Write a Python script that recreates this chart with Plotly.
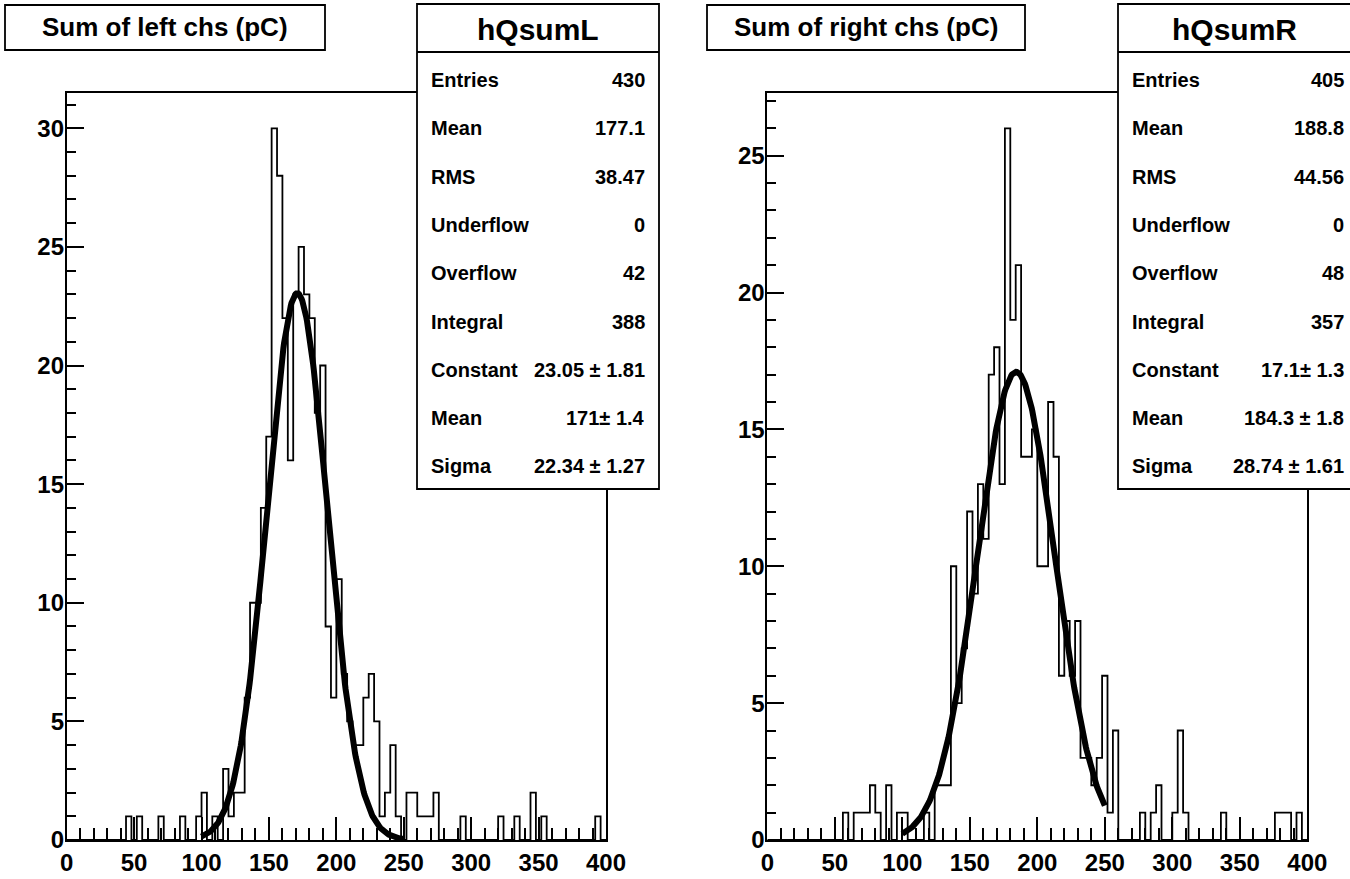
import numpy as np
import plotly.graph_objects as go

# ---------------- data ----------------
X_MIN, X_MAX, BIN_WIDTH = 0, 400, 4
N_BINS = 100

# left histogram: non-zero bins {bin index: count}, bin index = lower edge / 4
left_bins = {11: 1, 13: 1, 17: 1, 21: 1, 24: 1, 25: 2, 27: 1, 29: 3, 30: 1, 31: 2, 32: 2,
             33: 6, 34: 10, 35: 10, 36: 14, 37: 17, 38: 30, 39: 28, 40: 22, 41: 16, 42: 23,
             43: 25, 44: 23, 45: 22, 46: 18, 47: 20, 48: 9, 49: 6, 50: 11, 51: 7, 52: 5,
             53: 4, 54: 4, 55: 6, 56: 7, 57: 5, 58: 1, 59: 2, 60: 4, 61: 1, 63: 2, 64: 2,
             65: 1, 66: 1, 67: 1, 68: 2, 73: 1, 80: 1, 83: 1, 86: 2, 88: 1, 98: 1}
right_bins = {14: 1, 16: 1, 17: 1, 18: 1, 19: 2, 20: 1, 22: 2, 24: 1, 25: 1, 29: 1, 31: 2,
              32: 2, 33: 2, 34: 10, 35: 5, 36: 7, 37: 12, 38: 9, 39: 13, 40: 11, 41: 17,
              42: 18, 43: 13, 44: 26, 45: 19, 46: 21, 47: 14, 48: 14, 49: 15, 50: 10, 51: 10,
              52: 16, 53: 14, 54: 6, 55: 8, 56: 6, 57: 8, 58: 3, 59: 3, 60: 2, 61: 3, 62: 6,
              63: 1, 64: 4, 69: 1, 71: 1, 72: 2, 75: 1, 76: 4, 77: 1, 84: 1, 94: 1, 95: 1,
              96: 1, 98: 1}

# gaussian fit parameters: constant, mean, sigma, fit range
left_fit = [23.05, 171.0, 22.34]
right_fit = [17.1, 184.3, 28.74]
fit_range = [100, 250]

titles = ["Sum of left chs (pC)", "Sum of right chs (pC)"]
stat_names = ["hQsumL", "hQsumR"]
stat_labels = ["Entries", "Mean", "RMS", "Underflow", "Overflow", "Integral",
               "Constant", "Mean", "Sigma"]
left_stats = ["430", "177.1", "38.47", "0", "42", "388",
              "23.05 \u00b1 1.81", "171\u00b1 1.4", "22.34 \u00b1 1.27"]
right_stats = ["405", "188.8", "44.56", "0", "48", "357",
               "17.1\u00b1 1.3", "184.3 \u00b1 1.8", "28.74 \u00b1 1.61"]
y_max = [31.5, 27.3]
x_ticks = [0, 50, 100, 150, 200, 250, 300, 350, 400]

# ---------------- layout helpers ----------------
W, H = 1350, 879
def px(x):
    return x / W
def py(y):
    return 1 - y / H

FONT = "Liberation Sans, Arial, sans-serif"

def counts_from(d):
    c = [0] * N_BINS
    for k, v in d.items():
        c[k] = v
    return c

edges = [X_MIN + BIN_WIDTH * i for i in range(N_BINS + 1)]

fig = go.Figure()

panels = [
    dict(bins=left_bins, fit=left_fit, stats=left_stats, xa="x", ya="y",
         frame=(66.7, 606.0), tbox=(5, 325), sbox=(417, 659), vright=647),
    dict(bins=right_bins, fit=right_fit, stats=right_stats, xa="x2", ya="y2",
         frame=(767.3, 1307.3), tbox=(707, 1025), sbox=(1118, 1352), vright=1346),
]

shapes = []
annotations = []
for i, p in enumerate(panels):
    counts = counts_from(p["bins"])
    fig.add_trace(go.Scatter(x=edges, y=counts + [counts[-1]], mode="lines",
                             line=dict(color="black", width=1.8, shape="hv"),
                             xaxis=p["xa"], yaxis=p["ya"], showlegend=False,
                             hoverinfo="skip"))
    c, m, s = p["fit"]
    xf = np.linspace(fit_range[0], fit_range[1], 300)
    yf = c * np.exp(-0.5 * ((xf - m) / s) ** 2)
    fig.add_trace(go.Scatter(x=xf, y=yf, mode="lines",
                             line=dict(color="black", width=6),
                             xaxis=p["xa"], yaxis=p["ya"], showlegend=False,
                             hoverinfo="skip"))

    # title box
    x0, x1 = p["tbox"]
    shapes.append(dict(type="rect", xref="paper", yref="paper", x0=px(x0), x1=px(x1),
                       y0=py(50), y1=py(5), line=dict(color="black", width=1.8),
                       fillcolor="white", layer="above"))
    annotations.append(dict(xref="paper", yref="paper", x=px((x0 + x1) / 2), y=py(27),
                            text=titles[i], showarrow=False, xanchor="center",
                            yanchor="middle",
                            font=dict(family=FONT, size=26, color="black", weight="bold")))
    # stats box
    s0, s1 = p["sbox"]
    shapes.append(dict(type="rect", xref="paper", yref="paper", x0=px(s0), x1=px(s1),
                       y0=py(489), y1=py(4), line=dict(color="black", width=1.8),
                       fillcolor="white", layer="above"))
    shapes.append(dict(type="line", xref="paper", yref="paper", x0=px(s0), x1=px(s1),
                       y0=py(52), y1=py(52), line=dict(color="black", width=1.8),
                       layer="above"))
    annotations.append(dict(xref="paper", yref="paper", x=px((s0 + min(s1, 1350)) / 2),
                            y=py(29), text=stat_names[i], showarrow=False,
                            xanchor="center", yanchor="middle",
                            font=dict(family=FONT, size=30, color="black", weight="bold")))
    for j, (lab, val) in enumerate(zip(stat_labels, p["stats"])):
        yy = 80 + 48.3 * j
        annotations.append(dict(xref="paper", yref="paper", x=px(s0 + 12), y=py(yy),
                                text=lab, showarrow=False, xanchor="left",
                                yanchor="middle",
                                font=dict(family=FONT, size=20, color="black",
                                          weight="bold")))
        annotations.append(dict(xref="paper", yref="paper", x=px(p["vright"]),
                                y=py(yy), text=val, showarrow=False, xanchor="right",
                                yanchor="middle",
                                font=dict(family=FONT, size=20, color="black",
                                          weight="bold")))

def xaxis_cfg(frame):
    return dict(domain=[px(frame[0]), px(frame[1])], range=[X_MIN, X_MAX],
                tickvals=x_ticks, ticks="inside", ticklen=23, tickwidth=1.5,
                tickcolor="black", showline=True, linewidth=1.8, linecolor="black",
                mirror=True, showgrid=False, zeroline=False, automargin=False,
                minor=dict(dtick=10, ticks="inside", ticklen=12, tickwidth=1.5,
                           tickcolor="black", showgrid=False),
                tickfont=dict(family=FONT, size=24, color="black", weight="bold"),
                fixedrange=True)

def yaxis_cfg(ymax, anchor):
    return dict(domain=[py(840), py(92.7)], range=[0, ymax], anchor=anchor,
                dtick=5, tick0=0, ticks="inside", ticklen=17, tickwidth=1.5,
                tickcolor="black", showline=True, linewidth=1.8, linecolor="black",
                mirror=True, showgrid=False, zeroline=False, automargin=False,
                minor=dict(dtick=1, ticks="inside", ticklen=9, tickwidth=1.5,
                           tickcolor="black", showgrid=False),
                ticklabelstandoff=-4,
                tickfont=dict(family=FONT, size=24, color="black", weight="bold"),
                fixedrange=True)

fig.update_layout(
    template="none",
    width=W, height=H, margin=dict(l=0, r=0, t=0, b=0, pad=0, autoexpand=False),
    paper_bgcolor="white", plot_bgcolor="white",
    xaxis=dict(xaxis_cfg(panels[0]["frame"]), anchor="y"),
    yaxis=yaxis_cfg(y_max[0], "x"),
    xaxis2=dict(xaxis_cfg(panels[1]["frame"]), anchor="y2"),
    yaxis2=yaxis_cfg(y_max[1], "x2"),
    shapes=shapes, annotations=annotations, showlegend=False,
)

fig.write_html("out.html", config={"displayModeBar": False},
               post_script="document.body.style.margin='0';document.body.style.overflow='hidden';")
